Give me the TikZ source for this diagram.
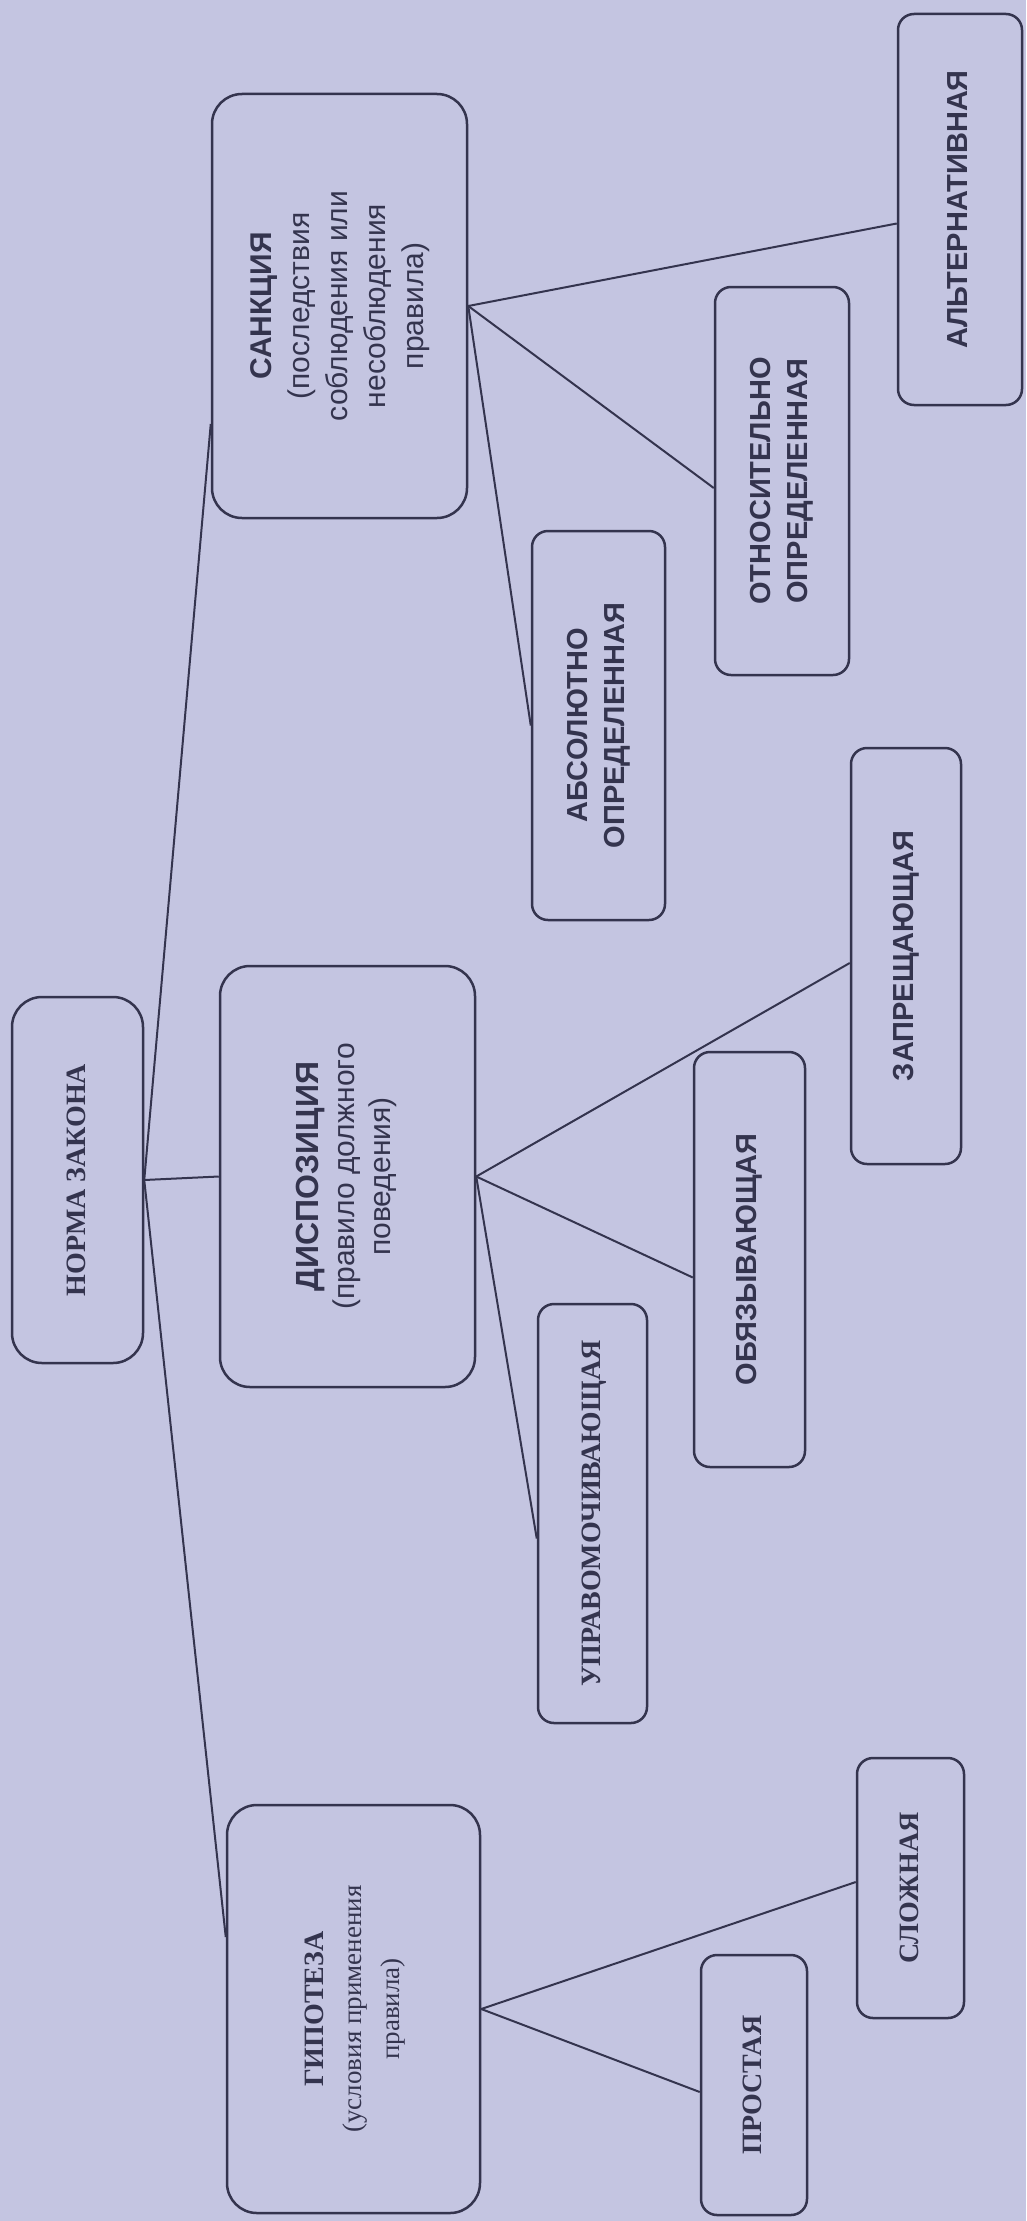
\documentclass[tikz,border=0pt]{standalone}
\usepackage{fontspec}
\setmainfont{Liberation Serif}
\setsansfont{Liberation Sans}
\usepackage{graphicx}
\definecolor{paperColor}{RGB}{196,197,225}
\definecolor{inkColor}{RGB}{52,52,78}
\tikzstyle{schema} = [x=1pt, y=-1pt]
\tikzstyle{mainBox} = [draw=inkColor, line width=2.5pt, rounded corners=30pt, inner sep=0pt, text=inkColor]
\tikzstyle{kindBox} = [draw=inkColor, line width=2.5pt, rounded corners=16pt, inner sep=0pt, text=inkColor]
\tikzstyle{serifText} = [font=\fontsize{28}{38}\selectfont]
\tikzstyle{sansText} = [font=\sffamily\fontsize{29}{37}\selectfont]
\tikzstyle{branch} = [color=inkColor, line width=2pt]
\newcommand{\upText}[1]{\rotatebox{90}{\begin{tabular}{@{}c@{}}#1\end{tabular}}}

\begin{document}
\begin{tikzpicture}[schema]
    \fill [paperColor] (0,0) rectangle (1026,2221);
    \useasboundingbox (0,0) rectangle (1026,2221);
    % root and its three parts
    \node [mainBox, serifText, minimum width=131pt, minimum height=366pt] (norm) at (77.5,1180) {\upText{\textbf{НОРМА ЗАКОНА}}};
    \node [mainBox, sansText, font=\sffamily\fontsize{30}{38}\selectfont, minimum width=255pt, minimum height=424pt] (sanction) at (339.5,306)
        {\upText{\textbf{САНКЦИЯ}\\(последствия\\соблюдения или\\несоблюдения\\правила)}};
    \node [mainBox, sansText, font=\sffamily\fontsize{30}{36}\selectfont, minimum width=255pt, minimum height=421pt] (disposition) at (347.5,1176.5)
        {\upText{{\fontsize{32}{36}\selectfont\bfseries ДИСПОЗИЦИЯ}\\(правило должного\\поведения)}};
    \node [mainBox, serifText, font=\fontsize{27}{38}\selectfont, minimum width=253pt, minimum height=408pt] (hypothesis) at (353.5,2009)
        {\upText{{\fontsize{28}{38}\selectfont\bfseries ГИПОТЕЗА}\\(условия применения\\правила)}};
    % kinds of sanction
    \node [kindBox, sansText, minimum width=133pt, minimum height=389pt] (absolute) at (598.5,725.5) {\upText{\textbf{АБСОЛЮТНО}\\\textbf{ОПРЕДЕЛЕННАЯ}}};
    \node [kindBox, sansText, minimum width=134pt, minimum height=388pt] (relative) at (782,481) {\upText{\textbf{ОТНОСИТЕЛЬНО}\\\textbf{ОПРЕДЕЛЕННАЯ}}};
    \node [kindBox, sansText, minimum width=124pt, minimum height=391pt] (alternative) at (960,209.5) {\upText{\textbf{АЛЬТЕРНАТИВНАЯ}}};
    % kinds of disposition
    \node [kindBox, serifText, minimum width=109pt, minimum height=419pt] (empowering) at (592.5,1513.5) {\upText{\textbf{УПРАВОМОЧИВАЮЩАЯ}}};
    \node [kindBox, sansText, minimum width=111pt, minimum height=415pt] (obliging) at (749.5,1259.5) {\upText{\textbf{ОБЯЗЫВАЮЩАЯ}}};
    \node [kindBox, sansText, minimum width=110pt, minimum height=416pt] (forbidding) at (906,956) {\upText{\textbf{ЗАПРЕЩАЮЩАЯ}}};
    % kinds of hypothesis
    \node [kindBox, serifText, minimum width=106pt, minimum height=260pt] (simple) at (754,2085) {\upText{\textbf{ПРОСТАЯ}}};
    \node [kindBox, serifText, minimum width=107pt, minimum height=260pt] (complex) at (910.5,1888) {\upText{\textbf{СЛОЖНАЯ}}};
    % connectors
    \foreach \part/\dy in {sanction/-118, disposition/0, hypothesis/72}
        \draw [branch] (norm.east) -- ([yshift=\dy pt]\part.west);
    \foreach \kind/\dy in {absolute/0, relative/-7, alternative/-14}
        \draw [branch] (sanction.east) -- ([yshift=\dy pt]\kind.west);
    \foreach \kind/\dy in {empowering/-25, obliging/-18, forbidding/-7}
        \draw [branch] (disposition.east) -- ([yshift=\dy pt]\kind.west);
    \foreach \kind/\dy in {simple/-7, complex/6}
        \draw [branch] (hypothesis.east) -- ([yshift=\dy pt]\kind.west);
\end{tikzpicture}
\end{document}
